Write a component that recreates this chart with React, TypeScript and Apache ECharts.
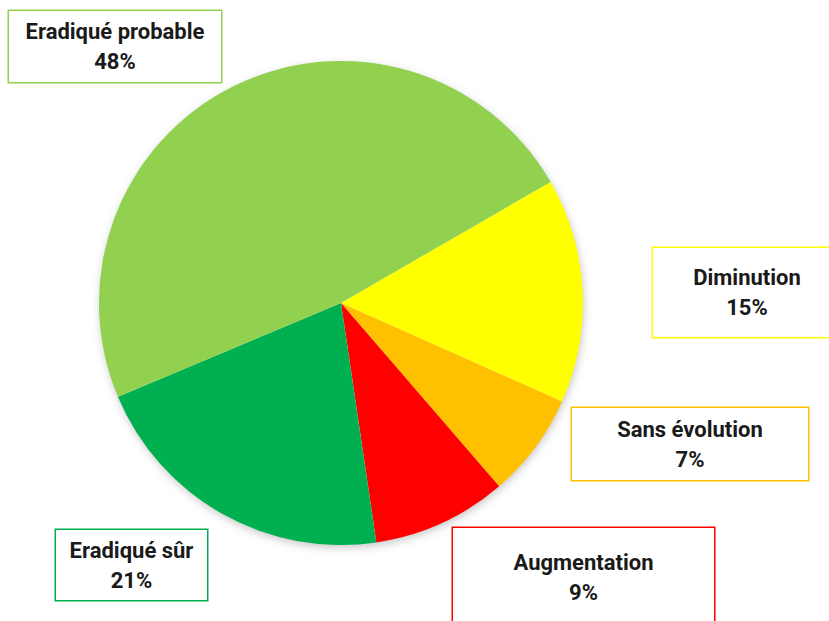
import React, { useEffect, useRef } from "react";
import * as echarts from "echarts";

const categories = ["Diminution", "Sans évolution", "Augmentation", "Eradiqué sûr", "Eradiqué probable"];
const values = [15, 7, 9, 21, 48];
const colors = ["#FFFF00", "#FFC000", "#FF0000", "#00B050", "#92D050"];

// label box layout: center x, center y, width, height
const labelBoxes = [
  { cx: 747, cy: 292.5, w: 188, h: 89 },
  { cx: 690, cy: 444, w: 236, h: 72 },
  { cx: 583.5, cy: 577.5, w: 261, h: 99 },
  { cx: 131.5, cy: 565, w: 151, h: 70 },
  { cx: 115, cy: 46.5, w: 212, h: 71 },
];

export default function App() {
  const ref = useRef<HTMLDivElement>(null);
  useEffect(() => {
    if (!ref.current) return;
    const chart = echarts.init(ref.current, null, { renderer: "svg" });
    const data = categories.map((name, i) => {
      const b = labelBoxes[i];
      const pv = (b.h - 60) / 2;
      return {
        name,
        value: values[i],
        itemStyle: { color: colors[i] },
        label: {
          width: b.w,
          padding: [pv, 0, pv, 0],
          borderColor: colors[i],
        },
      };
    });
    chart.setOption({
      animation: false,
      backgroundColor: "#ffffff",
      series: [
        {
          type: "pie",
          silent: true,
          z: 1,
          center: [341, 303],
          radius: 241,
          data: [{ value: 1, name: "" }],
          itemStyle: {
            color: "#ffffff",
            shadowBlur: 10,
            shadowColor: "rgba(0,0,0,0.25)",
            shadowOffsetX: 1,
            shadowOffsetY: 3,
          },
          label: { show: false },
          labelLine: { show: false },
          emphasis: { disabled: true },
          tooltip: { show: false },
        },
        {
          type: "pie",
          z: 2,
          center: [341, 303],
          radius: 242,
          startAngle: 30,
          clockwise: true,
          data,
          itemStyle: { borderWidth: 0 },
          label: {
            show: true,
            position: "outside",
            formatter: "{b}\n{d}%",
            fontFamily: "Roboto",
            fontWeight: "bold",
            fontSize: 22,
            lineHeight: 30,
            color: "#1a1a1a",
            align: "center",
            backgroundColor: "#ffffff",
            borderWidth: 1.5,
          },
          labelLine: { show: false },
          labelLayout: (params: any) => {
            const b = labelBoxes[params.dataIndex];
            return { x: b.cx, y: b.cy, align: "center", verticalAlign: "middle", hideOverlap: false };
          },
          emphasis: { disabled: true },
        },
      ],
    });
    return () => chart.dispose();
  }, []);
  return <div ref={ref} style={{ position: "fixed", left: 0, top: 0, width: 829, height: 621 }} />;
}
